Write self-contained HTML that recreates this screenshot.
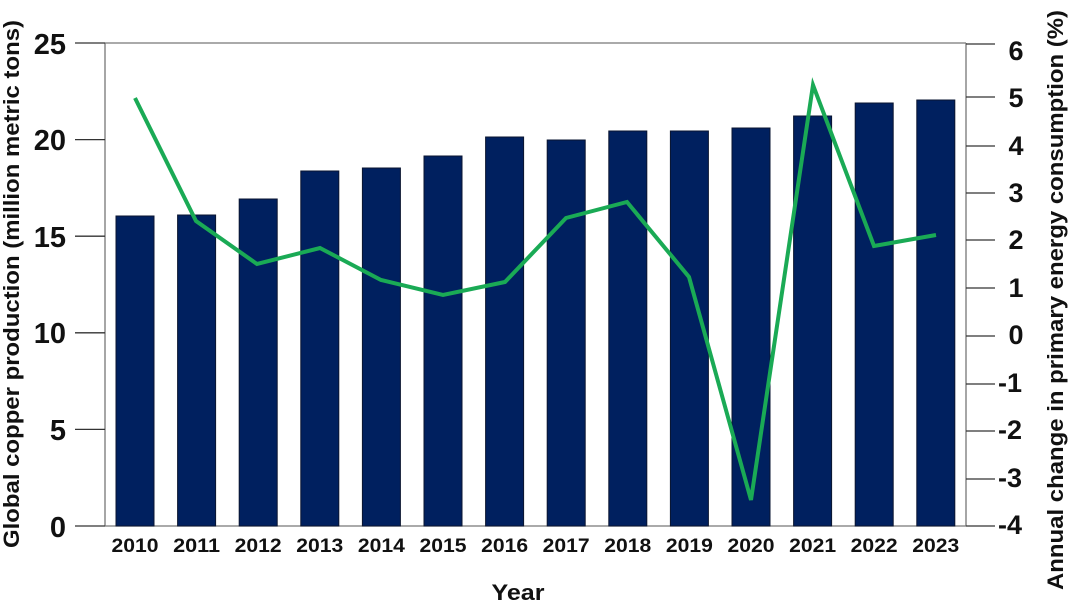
<!DOCTYPE html>
<html><head><meta charset="utf-8"><style>
html,body{margin:0;padding:0;background:#fff;}
svg text{font-family:"Liberation Sans",Arial,sans-serif;fill:#111;}
</style></head><body>
<svg width="1068" height="601" viewBox="0 0 1068 601" xmlns="http://www.w3.org/2000/svg">
<g stroke="#777" stroke-width="1.3">
<line x1="105" y1="43" x2="966" y2="43"/>
<line x1="105" y1="526" x2="966" y2="526"/>
<line x1="105" y1="43" x2="105" y2="526"/>
<line x1="966" y1="43" x2="966" y2="526"/>
</g>
<g stroke="#333" stroke-width="1.3">
<line x1="75" y1="43" x2="105" y2="43"/>
<line x1="75" y1="139.6" x2="105" y2="139.6"/>
<line x1="75" y1="236.2" x2="105" y2="236.2"/>
<line x1="75" y1="332.8" x2="105" y2="332.8"/>
<line x1="75" y1="429.4" x2="105" y2="429.4"/>
<line x1="75" y1="526" x2="105" y2="526"/>
<line x1="966" y1="44" x2="995" y2="44"/>
<line x1="966" y1="97" x2="995" y2="97"/>
<line x1="966" y1="146" x2="995" y2="146"/>
<line x1="966" y1="193" x2="995" y2="193"/>
<line x1="966" y1="240" x2="995" y2="240"/>
<line x1="966" y1="288" x2="995" y2="288"/>
<line x1="966" y1="336" x2="995" y2="336"/>
<line x1="966" y1="384" x2="995" y2="384"/>
<line x1="966" y1="431" x2="995" y2="431"/>
<line x1="966" y1="479" x2="995" y2="479"/>
<line x1="966" y1="526" x2="995" y2="526"/>
</g>
<g font-size="29" font-weight="bold" text-anchor="end">
<text x="66" y="54">25</text>
<text x="66" y="150">20</text>
<text x="66" y="247">15</text>
<text x="66" y="343">10</text>
<text x="66" y="440">5</text>
<text x="66" y="537">0</text>
</g>
<g font-size="27" font-weight="bold" text-anchor="middle">
<text x="1016" y="60">6</text>
<text x="1016" y="107">5</text>
<text x="1016" y="155">4</text>
<text x="1016" y="202">3</text>
<text x="1016" y="249">2</text>
<text x="1016" y="297">1</text>
<text x="1016" y="344">0</text>
<text x="1010" y="392">-1</text>
<text x="1010" y="439">-2</text>
<text x="1010" y="487">-3</text>
<text x="1010" y="534">-4</text>
</g>
<g fill="#00205f" stroke="#0a1530" stroke-width="1">
<rect x="116" y="216" width="38" height="310"/>
<rect x="177.6" y="215" width="38" height="311"/>
<rect x="239.2" y="199" width="38" height="327"/>
<rect x="300.8" y="171" width="38" height="355"/>
<rect x="362.4" y="168" width="38" height="358"/>
<rect x="424" y="156" width="38" height="370"/>
<rect x="485.6" y="137" width="38" height="389"/>
<rect x="547.2" y="140" width="38" height="386"/>
<rect x="608.8" y="131" width="38" height="395"/>
<rect x="670.4" y="131" width="38" height="395"/>
<rect x="732" y="128" width="38" height="398"/>
<rect x="793.6" y="116" width="38" height="410"/>
<rect x="855.2" y="103" width="38" height="423"/>
<rect x="916.8" y="100" width="38" height="426"/>
</g>
<polyline fill="none" stroke="#1aaa55" stroke-width="4" points="135,98 196,221 257,264 320,248 381,280 443,295 505,282 566,218 627,202 689,277 751,500 813,85 874,246 936,235"/>
<g font-size="19" font-weight="bold" text-anchor="middle" lengthAdjust="spacingAndGlyphs">
<text x="135" y="552" textLength="47" lengthAdjust="spacingAndGlyphs">2010</text>
<text x="196.6" y="552" textLength="47" lengthAdjust="spacingAndGlyphs">2011</text>
<text x="258.2" y="552" textLength="47" lengthAdjust="spacingAndGlyphs">2012</text>
<text x="319.8" y="552" textLength="47" lengthAdjust="spacingAndGlyphs">2013</text>
<text x="381.4" y="552" textLength="47" lengthAdjust="spacingAndGlyphs">2014</text>
<text x="443" y="552" textLength="47" lengthAdjust="spacingAndGlyphs">2015</text>
<text x="504.6" y="552" textLength="47" lengthAdjust="spacingAndGlyphs">2016</text>
<text x="566.2" y="552" textLength="47" lengthAdjust="spacingAndGlyphs">2017</text>
<text x="627.8" y="552" textLength="47" lengthAdjust="spacingAndGlyphs">2018</text>
<text x="689.4" y="552" textLength="47" lengthAdjust="spacingAndGlyphs">2019</text>
<text x="751" y="552" textLength="47" lengthAdjust="spacingAndGlyphs">2020</text>
<text x="812.6" y="552" textLength="47" lengthAdjust="spacingAndGlyphs">2021</text>
<text x="874.2" y="552" textLength="47" lengthAdjust="spacingAndGlyphs">2022</text>
<text x="935.8" y="552" textLength="47" lengthAdjust="spacingAndGlyphs">2023</text>
</g>
<text x="518" y="600" font-size="22" font-weight="bold" text-anchor="middle" textLength="53" lengthAdjust="spacingAndGlyphs">Year</text>
<text transform="translate(19,284) rotate(-90)" font-size="22" font-weight="bold" text-anchor="middle" textLength="528" lengthAdjust="spacingAndGlyphs">Global copper production (million metric tons)</text>
<text transform="translate(1063,300) rotate(-90)" font-size="22" font-weight="bold" text-anchor="middle" textLength="580" lengthAdjust="spacingAndGlyphs">Annual change in primary energy consumption (%)</text>
</svg>
</body></html>
